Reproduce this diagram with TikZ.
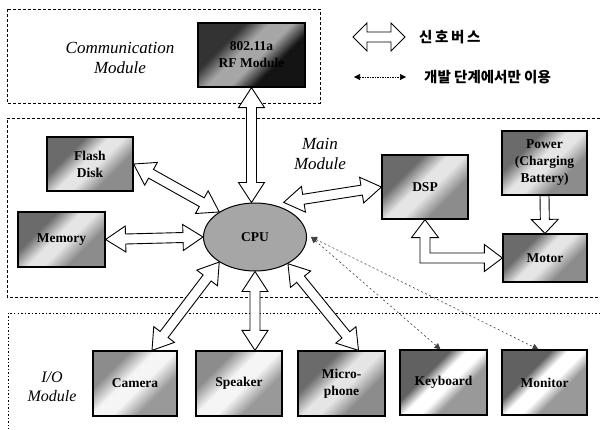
\documentclass[tikz,border=0pt]{standalone}
\usepackage{fontspec}
\setmainfont{Liberation Serif}
\newfontfamily\kor{Noto Sans CJK KR}
\usetikzlibrary{calc,arrows.meta,shapes.geometric}

\pgfdeclareverticalshading{boxgrad}{100bp}{color(0bp)=(black!45); color(34bp)=(black!45); color(46bp)=(black!10); color(54bp)=(black!10); color(66bp)=(black!58); color(100bp)=(black!58)}
\pgfdeclareverticalshading{lightgrad}{100bp}{color(0bp)=(black!40); color(34bp)=(black!40); color(46bp)=(black!4); color(56bp)=(black!4); color(68bp)=(black!45); color(100bp)=(black!45)}
\pgfdeclareverticalshading{whitegrad}{100bp}{color(0bp)=(black!40); color(38bp)=(black!40); color(46bp)=(white); color(54bp)=(white); color(62bp)=(black!62); color(100bp)=(black!62)}
\pgfdeclareverticalshading{darkgrad}{100bp}{color(0bp)=(black!92); color(36bp)=(black!92); color(46bp)=(black!35); color(56bp)=(black!35); color(66bp)=(black!80); color(100bp)=(black!80)}

\def\HL{20pt}\def\HH{13pt}\def\HS{5pt}
\newcommand\dbus[2]{%
 \draw[bus] (#1) -- ($(#1)!\HL!(#2)!\HH!90:(#2)$) -- ($(#1)!\HL!(#2)!\HS!90:(#2)$)
  -- ($(#2)!\HL!(#1)!\HS!-90:(#1)$) -- ($(#2)!\HL!(#1)!\HH!-90:(#1)$) -- (#2)
  -- ($(#2)!\HL!(#1)!\HH!90:(#1)$) -- ($(#2)!\HL!(#1)!\HS!90:(#1)$)
  -- ($(#1)!\HL!(#2)!\HS!-90:(#2)$) -- ($(#1)!\HL!(#2)!\HH!-90:(#2)$) -- cycle;}
\newcommand\sbus[2]{%
 \draw[bus] ($(#1)!\HS!90:(#2)$) -- ($(#2)!\HL!(#1)!\HS!-90:(#1)$) -- ($(#2)!\HL!(#1)!\HH!-90:(#1)$)
  -- (#2) -- ($(#2)!\HL!(#1)!\HH!90:(#1)$) -- ($(#2)!\HL!(#1)!\HS!90:(#1)$)
  -- ($(#1)!\HS!-90:(#2)$) -- cycle;}

\tikzset{
  bus/.style={draw=black, fill=white, line width=0.9pt, line join=miter},
  box/.style={draw=black, line width=1.2pt, align=center, inner sep=0pt,
    font=\fontsize{13.5}{17}\selectfont\bfseries,
    shading=boxgrad, shading angle=45},
  lightbox/.style={box, shading=lightgrad, shading angle=45},
  whitebox/.style={box, shading=whitegrad, shading angle=45},
  darkbox/.style={box, shading=darkgrad, shading angle=45},
  modlabel/.style={align=center, font=\fontsize{17}{20}\selectfont\itshape},
  region/.style={line width=0.7pt, dash pattern=on 3pt off 2pt},
  regiondot/.style={line width=0.7pt, dash pattern=on 1.5pt off 2pt},
  debug/.style={black!75, line width=0.6pt, dash pattern=on 2pt off 2.5pt,
    {Triangle[length=6pt,width=6pt]}-{Triangle[length=6pt,width=6pt]}},
  kortext/.style={anchor=west, inner sep=0pt, font=\kor\bfseries\fontsize{14.5}{17}\selectfont}
}

\begin{document}
\begin{tikzpicture}[x=1pt,y=-1pt]
\useasboundingbox (0,0) rectangle (600,429);

% regions
\draw[region] (7,9) rectangle (320,103);
\draw[region] (600,118) -- (7,118) -- (7,297) -- (600,297);
\draw[regiondot] (600,313) -- (8,313) -- (8,429);

\node[modlabel] (lcomm) at (120,58) {Communication\\Module};
\node[modlabel] (lmain) at (320,154) {Main\\Module};
\node[modlabel, font=\fontsize{16}{19}\selectfont\itshape] (lio) at (52,387) {I/O\\Module};

% nodes
\node[darkbox, minimum width=107, minimum height=64] (rf) at (251.5,55) {802.11a\\RF Module};
\node[box, minimum width=86, minimum height=54] (flash) at (90,164) {Flash\\Disk};
\node[box, minimum width=87, minimum height=55] (mem) at (61.5,239.5) {Memory};
\node[ellipse, draw=black, line width=1pt, fill=black!35, minimum width=103, minimum height=68,
  inner sep=0pt, font=\fontsize{13.5}{17}\selectfont\bfseries] (cpu) at (255,237) {CPU};
\node[box, minimum width=86, minimum height=64] (dsp) at (425,187) {DSP};
\node[box, minimum width=85, minimum height=64] (power) at (544.5,163) {Power\\(Charging\\Battery)};
\node[box, minimum width=84, minimum height=48] (motor) at (545,258) {Motor};
\node[lightbox, minimum width=84, minimum height=65] (camera) at (135,383.5) {Camera};
\node[lightbox, minimum width=86, minimum height=65] (speaker) at (239,383.5) {Speaker};
\node[box, minimum width=87, minimum height=65] (mic) at (341.5,383.5) {Micro-\\phone};
\node[whitebox, minimum width=87, minimum height=65] (kbd) at (443.5,382.5) {Keyboard};
\node[whitebox, minimum width=85, minimum height=65] (mon) at (544.5,382.5) {Monitor};

% helper coordinates
\coordinate (rfend) at (rf.south |- cpu.north);
\coordinate (spkstart) at (cpu.south |- speaker.north);
\coordinate (camend) at ($(camera.north)+(17,0)$);
\coordinate (micend) at ($(mic.north)+(17,0)$);
\coordinate (dbg) at ($(cpu.east)+(4,0)$);
\coordinate (kbdend) at ($(kbd.north)+(-3,0)$);
\coordinate (monend) at ($(mon.north)+(-6,0)$);
\coordinate (dspstart) at ($(cpu.48)+(2,-5)$);

% bus connectors
\dbus{rf.south}{rfend}
\dbus{flash.east}{cpu.145}
\dbus{mem.east}{cpu.west}
\dbus{dspstart}{dsp.west}
\dbus{cpu.215}{camend}
\dbus{cpu.south}{spkstart}
\dbus{cpu.-39}{micend}
{\def\HL{14pt}\def\HS{4.5pt}\def\HH{13.5pt}\sbus{power.south}{motor.north}}

% elbow DSP - Motor
\draw[bus] let \p1=(dsp.south), \p2=(motor.west) in
  (\p1) -- (\x1-13.5pt,\y1-18pt) -- (\x1-5pt,\y1-18pt) -- (\x1-5pt,\y2-5pt)
  -- (\x2-18pt,\y2-5pt) -- (\x2-18pt,\y2-13.5pt) -- (\p2) -- (\x2-18pt,\y2+13.5pt)
  -- (\x2-18pt,\y2+5pt) -- (\x1+5pt,\y2+5pt) -- (\x1+5pt,\y1-18pt) -- (\x1+13.5pt,\y1-18pt) -- cycle;

% debug connectors
\draw[debug] (dbg) -- (kbdend);
\draw[debug] (dbg) -- (monend);

% legend
\coordinate (lga) at (353,37);
\coordinate (lgb) at (405,37);
\coordinate (lgc) at (354,77);
\coordinate (lgd) at (406,77);
{\def\HL{14pt}\def\HH{14pt}\def\HS{5pt}\dbus{lga}{lgb}}
\draw[debug, black, dash pattern=on 1.5pt off 1pt] (lgc) -- (lgd);
\node[kortext, font=\kor\bfseries\fontsize{14.5}{17}\selectfont\addfontfeature{LetterSpace=18}] (leg1) at (419,37) {신호버스};
\node[kortext] (leg2) at (424,77) {개발 단계에서만 이용};
\end{tikzpicture}
\end{document}
